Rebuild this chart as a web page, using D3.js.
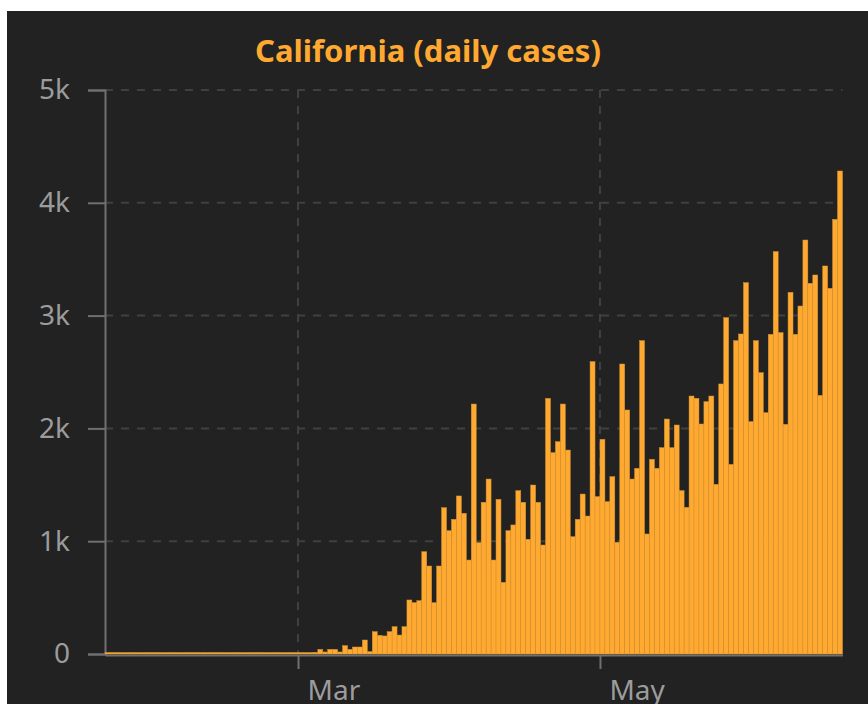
<!DOCTYPE html>
<html>
<head>
<meta charset="utf-8">
<script src="https://cdn.jsdelivr.net/npm/d3@7"></script>
<style>
body { margin: 0; background: #fff; }
text { font-family: "Noto Sans", "Open Sans", sans-serif; }
</style>
</head>
<body>
<div id="chart"></div>
<script>
// data (daily new cases from Jan 22)
var startDate = "2020-01-22";
var earlyCases = [0,0,0,1,1,0,0,0,0,1, 0,1,0,0,0,0,0,0,0,0, 1,0,0,0,0,0,0,0,0,3, 0,0,0,0,2,1,3,2,1];
var marchCases = [6,12,9,15,41,18,41,41,18,74, 41,62,62,124,21,198,165,160,198,242, 168,242,479,455,473,907,780,455,780,1297,
	1093];
var aprilCases = [1194,1401,1247,833,2216,987,1345,1551,833,1371, 635,1093,1144,1448,1345,1017,1498,1345,966,2266,
	1785,1882,2216,1808,1040,1194,1418,1223,2592,1395];
var mayCases = [1903,1350,1572,990,2571,2163,1551,1646,2778,1064, 1726,1646,1829,2083,1829,2030,1448,1300,2287,2267,
	2039,2237,2287,1504,2394,2982,1681,2778,2837,3292, 2060];
var juneCases = [2778,2494,2139,2834,3567,2849,2036,3206,2834,3085, 3670,3286,3360,2293,3440,3242,3853,4282];
var dailyCases = earlyCases.concat(marchCases, aprilCases, mayCases, juneCases);

var yTicks = [0, 1000, 2000, 3000, 4000, 5000];
var yTickLabels = ["0", "1k", "2k", "3k", "4k", "5k"];
var xTickDates = ["2020-03-01", "2020-05-01"];
var xTickLabels = ["Mar", "May"];
var chartTitle = "California (daily cases)";

var width = 868, height = 704;
var plotLeft = 105, plotRight = 842.5, plotTop = 90, plotBottom = 654;
var barColor = "#ffa931";
var gridColor = "#404040";
var axisColor = "#707070";
var labelColor = "#9c9c9c";

var svg = d3.select("#chart").append("svg")
	.attr("width", width)
	.attr("height", height)
	.style("display", "block");

svg.append("rect")
	.attr("x", 7).attr("y", 11)
	.attr("width", width - 7).attr("height", height - 11)
	.attr("fill", "#222222");

var parse = d3.utcParse("%Y-%m-%d");
var t0 = parse(startDate);
var data = dailyCases.map(function(v, i) { return {date: d3.utcDay.offset(t0, i), value: v}; });

var x = d3.scaleUtc()
	.domain([t0, d3.utcDay.offset(t0, dailyCases.length)])
	.range([plotLeft, plotRight]);
var y = d3.scaleLinear()
	.domain([0, 5000])
	.range([plotBottom, plotTop]);

// grid
var grid = svg.append("g");
grid.selectAll(".hgrid")
	.data(yTicks.slice(1))
	.enter().append("line")
	.attr("class", "hgrid")
	.attr("x1", plotLeft).attr("x2", plotRight)
	.attr("y1", function(d) { return y(d); })
	.attr("y2", function(d) { return y(d); });
grid.selectAll(".vgrid")
	.data(xTickDates)
	.enter().append("line")
	.attr("class", "vgrid")
	.attr("x1", function(d) { return x(parse(d)); })
	.attr("x2", function(d) { return x(parse(d)); })
	.attr("y1", plotTop).attr("y2", plotBottom);
grid.selectAll("line")
	.style("stroke", gridColor)
	.style("stroke-width", 2)
	.style("stroke-dasharray", "8,8");

// axes
var yAxis = svg.append("g")
	.attr("transform", "translate(" + plotLeft + ",0)")
	.call(d3.axisLeft(y)
		.tickValues(yTicks)
		.tickFormat(function(d, i) { return yTickLabels[i]; })
		.tickSize(17)
		.tickPadding(18));

var xAxis = svg.append("g")
	.attr("transform", "translate(0," + (plotBottom + 1) + ")")
	.call(d3.axisBottom(x)
		.tickValues(xTickDates.map(parse))
		.tickFormat(function(d, i) { return xTickLabels[i]; })
		.tickSize(14)
		.tickSizeOuter(0)
		.tickPadding(11));
xAxis.selectAll("text").attr("text-anchor", "start").attr("x", 9);

[yAxis, xAxis].forEach(function(a) {
	a.select(".domain").style("stroke", axisColor).style("stroke-width", 2);
	a.selectAll(".tick line").style("stroke", axisColor).style("stroke-width", 2);
	a.selectAll("text")
		.style("fill", labelColor)
		.style("font-size", "28px")
		.style("font-family", "'Noto Sans', sans-serif");
});

// bars (a hairline is kept for the near-zero days, as in the original)
svg.append("g").selectAll("rect")
	.data(data)
	.enter().append("rect")
	.attr("x", function(d) { return x(d.date); })
	.attr("width", function(d) { return x(d3.utcDay.offset(d.date, 1)) - x(d.date); })
	.attr("y", function(d) { return Math.min(y(d.value), plotBottom - 1.5); })
	.attr("height", function(d) { return Math.max(plotBottom - y(d.value), 1.5); })
	.style("fill", barColor)
	.style("stroke", "#d39433")
	.style("stroke-width", 0.5);

svg.append("text")
	.attr("x", 428).attr("y", 62)
	.attr("text-anchor", "middle")
	.style("fill", barColor)
	.style("font-size", "31px")
	.style("font-weight", "bold")
	.text(chartTitle);
</script>
</body>
</html>
